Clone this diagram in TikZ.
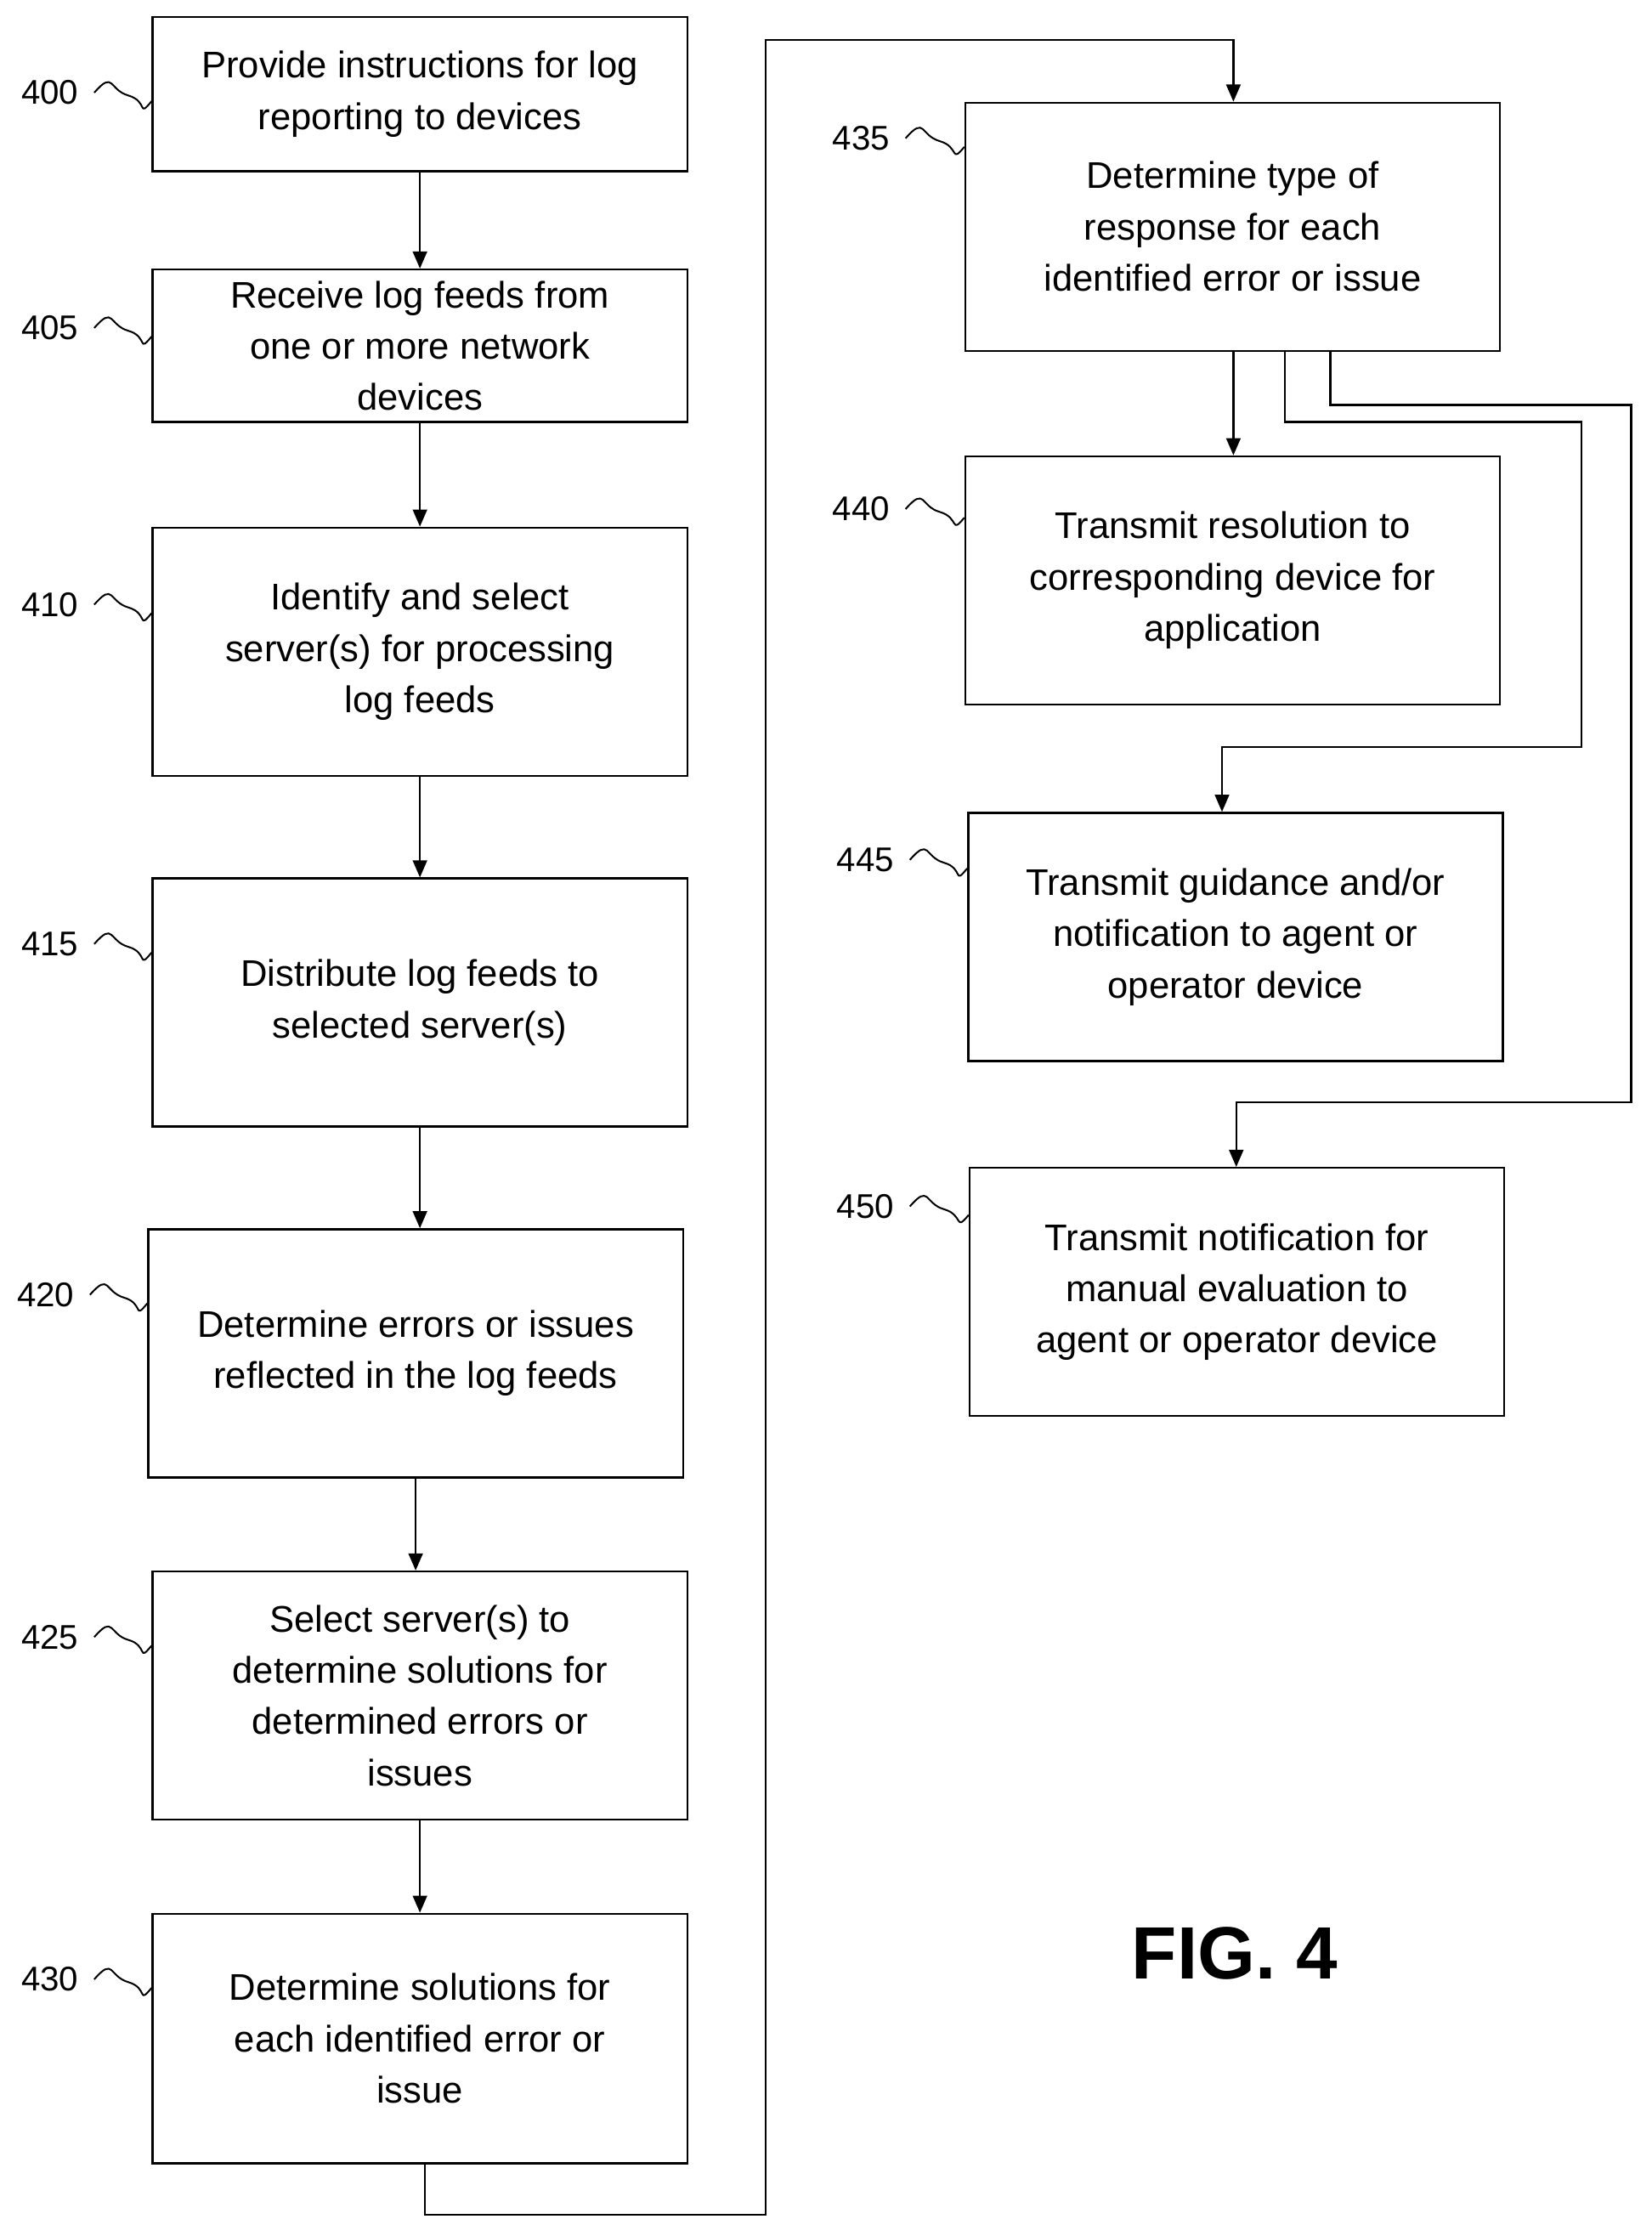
\documentclass[tikz,border=0pt]{standalone}
\usepackage{fontspec}
\setmainfont{Liberation Sans}
\usetikzlibrary{arrows.meta}
\begin{document}
\begin{tikzpicture}[x=0.5pt,y=-0.5pt,
  box/.style={draw,line width=0.7pt,minimum width=187.5pt,align=center,inner sep=2pt,font=\fontsize{13}{18}\selectfont},
  lab/.style={font=\fontsize{12}{14}\selectfont},
  arr/.style={line width=0.7pt,-{Triangle[length=6pt,width=5pt]}},
  sq/.style={line width=0.6pt}]
\useasboundingbox (0,0) rectangle (1158,1568);
\node[box,minimum height=54pt] (b400) at (294.5,66) {Provide instructions for log\\reporting to devices};
\node[box,minimum height=53.5pt] (b405) at (294.5,242.5) {Receive log feeds from\\one or more network\\devices};
\node[box,minimum height=87pt] (b410) at (294.5,457) {Identify and select\\server(s) for processing\\log feeds};
\node[box,minimum height=87pt] (b415) at (294.5,703) {Distribute log feeds to\\selected server(s)};
\node[box,minimum height=87pt] (b420) at (291.5,949) {Determine errors or issues\\reflected in the log feeds};
\node[box,minimum height=87pt] (b425) at (294.5,1189) {Select server(s) to\\determine solutions for\\determined errors or\\issues};
\node[box,minimum height=87.5pt] (b430) at (294.5,1429.5) {Determine solutions for\\each identified error or\\issue};
\node[box,minimum height=87pt] (b435) at (864.5,159) {Determine type of\\response for each\\identified error or issue};
\node[box,minimum height=87pt] (b440) at (864.5,407) {Transmit resolution to\\corresponding device for\\application};
\node[box,minimum height=87pt] (b445) at (866.5,657) {Transmit guidance and/or\\notification to agent or\\operator device};
\node[box,minimum height=87pt] (b450) at (867.5,906) {Transmit notification for\\manual evaluation to\\agent or operator device};
\foreach \n/\t/\y/\lx in {b400/400/65/35,b405/405/230/35,b410/410/424/35,b415/415/662/35,b420/420/908/32,b425/425/1148/35,b430/430/1388/35,b435/435/97/604,b440/440/357/604,b445/445/603/607,b450/450/846/607}{
  \node[lab] (l\t) at (\lx,\y) {\t};
  \draw[sq] ([xshift=2pt]l\t.east) .. controls +(14,-16) and +(-14,-4) .. +(24,2) .. controls +(14,4) and +(-10,12) .. ([yshift=-3pt]\n.west |- l\t.east);
}
\draw[arr] (b400) -- (b405);
\draw[arr] (b405) -- (b410);
\draw[arr] (b410) -- (b415);
\draw[arr] (b415.south) -- (b415.south |- b420.north);
\draw[arr] (b420.south) -- (b420.south |- b425.north);
\draw[arr] (b425) -- (b430);
\coordinate (c1) at (298,1553);
\coordinate (c2) at (537,1553);
\coordinate (c3) at (537,28);
\coordinate (c4) at (865,28);
\draw[arr] (b430.south -| c1) -- (c1) -- (c2) -- (c3) -- (c4) -- (b435.north -| c4);
\draw[arr] (b435.south -| 865,0) -- (b440.north -| 865,0);
\coordinate (d1) at (901,296); \coordinate (d2) at (1109,296);
\coordinate (d3) at (1109,524); \coordinate (d4) at (857,524);
\draw[arr] (b435.south -| d1) -- (d1) -- (d2) -- (d3) -- (d4) -- (b445.north -| d4);
\coordinate (e1) at (933,284); \coordinate (e2) at (1144,284);
\coordinate (e3) at (1144,773); \coordinate (e4) at (867,773);
\draw[arr] (b435.south -| e1) -- (e1) -- (e2) -- (e3) -- (e4) -- (b450.north -| e4);
\node[font=\fontsize{26}{30}\selectfont\bfseries] (fig) at (866,1370) {FIG. 4};
\end{tikzpicture}
\end{document}
